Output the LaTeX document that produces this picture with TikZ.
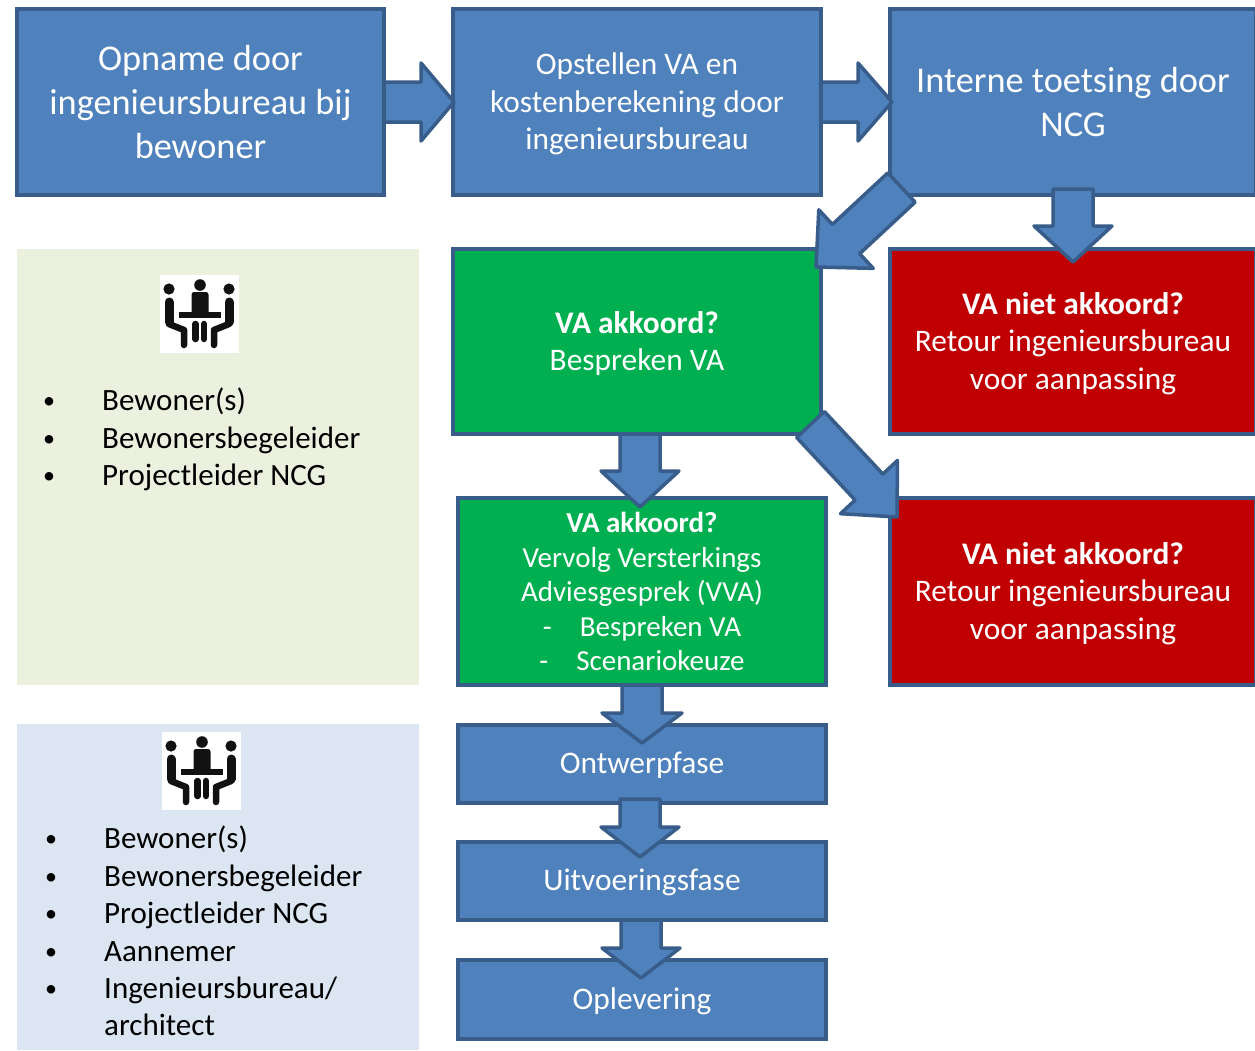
\documentclass[tikz,border=0pt]{standalone}
\usepackage{fontspec}
\setmainfont{Carlito}
\usetikzlibrary{calc}
\definecolor{bluefill}{HTML}{4F81BD}
\definecolor{blueline}{HTML}{385D8A}
\definecolor{greenfill}{HTML}{00B050}
\definecolor{redfill}{HTML}{C00000}
\definecolor{panelgreen}{HTML}{EBF1DE}
\definecolor{panelblue}{HTML}{DCE6F2}
\definecolor{iconblack}{HTML}{111111}
\tikzset{
  box/.style={draw=blueline,line width=3.5pt,inner sep=0pt,outer sep=0pt,text=white,align=center},
  bluebox/.style={box,fill=bluefill},
  greenbox/.style={box,fill=greenfill},
  redbox/.style={box,fill=redfill},
  blockarrow/.style={draw=blueline,fill=bluefill,line width=3.5pt,line join=round},
  panel/.style={inner sep=0pt,outer sep=0pt},
  listitem/.style={anchor=base west,inner sep=0pt,text=black,font=\fontsize{31}{36}\selectfont},
  dotitem/.style={anchor=base west,inner sep=0pt,text=black,font=\fontsize{24}{36}\selectfont},
  iconpart/.style={draw=iconblack,line cap=round,line join=round},
  bigtxt/.style={font=\fontsize{36.3}{44}\selectfont},
  midtxt/.style={font=\fontsize{31.4}{37.5}\selectfont},
  lowtxt/.style={font=\fontsize{29}{34.5}\selectfont},
  stagetxt/.style={font=\fontsize{31.4}{36}\selectfont},
}
\newcommand{\topstrut}[1]{\rule{0pt}{#1pt}}
\newcommand{\placebox}[7]{\node[#6,minimum width={(#4-#2-2)*1pt},minimum height={(#5-#3-2)*1pt}] (#1) at ({(#2+#4)/2},{(#3+#5)/2}) {#7};}
\newcommand{\placepanel}[6]{\node[panel,fill=#6,minimum width={(#4-#2)*1pt},minimum height={(#5-#3)*1pt}] (#1) at ({(#2+#4)/2},{(#3+#5)/2}) {};}
\newcommand{\blockarr}[5]{%
  \coordinate (ba) at #1; \coordinate (bb) at #2;
  \coordinate (bn) at ($(bb)!#5!(ba)$);
  \draw[blockarrow] ($(ba)!#3!90:(bb)$) -- ($(bn)!#3!-90:(ba)$) -- ($(bn)!#4!-90:(ba)$) -- (bb)
    -- ($(bn)!#4!90:(ba)$) -- ($(bn)!#3!90:(ba)$) -- ($(ba)!#3!-90:(bb)$) -- cycle;}
\newcommand{\meetingicon}[2]{%
  \begin{scope}[shift={(#1,#2)}]
    \fill[white] (0,0) rectangle (79,78);
    \fill[iconblack] (40,10) circle (5.8) (9,14) circle (5.6) (69,14) circle (5.6);
    \fill[iconblack,rounded corners=2.5] (31.5,17) rectangle (48.5,39);
    \fill[iconblack] (19,37) rectangle (61,42.5);
    \draw[iconpart,line width=6.5] (35.5,49) -- (35.5,64) (44,49) -- (44,64);
    \draw[iconpart,line width=9] (9,27) -- (9,47);
    \draw[iconpart,line width=9] (69,27) -- (69,47);
    \draw[iconpart,line width=6.5] (9,49) -- (24,55) -- (24,70);
    \draw[iconpart,line width=6.5] (69,49) -- (54,55) -- (54,70);
  \end{scope}}
\begin{document}
\begin{tikzpicture}[x=1pt,y=-1pt]
\useasboundingbox (0,0) rectangle (1255,1050);
\fill[white] (0,0) rectangle (1255,1050);
% panels
\placepanel{pg}{17}{249}{419}{685}{panelgreen}
\placepanel{pb}{17}{724}{419}{1050}{panelblue}
\meetingicon{160}{275}
\meetingicon{162}{732}
% lists
\foreach \yy/\tx in {410/Bewoner(s),448/Bewonersbegeleider,485/Projectleider NCG}{
  \node[listitem] at (102,\yy) {\tx};
  \node[dotitem] at (43,{\yy-2}) {•};
}
\foreach \yy/\tx in {848/Bewoner(s),886/Bewonersbegeleider,923/Projectleider NCG,961/Aannemer}{
  \node[listitem] at (104,\yy) {\tx};
  \node[dotitem] at (45,{\yy-2}) {•};
}
\node[listitem] at (104,998) {Ingenieursbureau/};
\node[dotitem] at (45,996) {•};
\node[listitem] at (104,1035) {architect};
% boxes
\placebox{b1}{16}{8}{385}{196}{bluebox,bigtxt}{Opname door\\ingenieursbureau bij\\bewoner}
\placebox{b2}{452}{8}{822}{196}{bluebox,midtxt}{\topstrut{26}Opstellen VA en\\kostenberekening door\\ingenieursbureau}
\placebox{b3}{889}{8}{1257}{196}{bluebox,bigtxt}{Interne toetsing door\\NCG}
\placebox{g1}{452}{248}{822}{435}{greenbox,midtxt}{\topstrut{26}\textbf{VA akkoord?}\\Bespreken VA}
\placebox{r1}{889}{248}{1257}{435}{redbox,midtxt}{\topstrut{26}\textbf{VA niet akkoord?}\\Retour ingenieursbureau\\voor aanpassing}
\placebox{g2}{457}{497}{827}{686}{greenbox,lowtxt}{\textbf{VA akkoord?}\\Vervolg Versterkings\\Adviesgesprek (VVA)\\-\hspace{28pt}Bespreken VA\\-\hspace{28pt}Scenariokeuze}
\placebox{r2}{889}{497}{1257}{686}{redbox,midtxt}{\topstrut{26}\textbf{VA niet akkoord?}\\Retour ingenieursbureau\\voor aanpassing}
\placebox{o1}{457}{724}{827}{804}{bluebox,stagetxt}{\topstrut{25}Ontwerpfase}
\placebox{o2}{457}{841}{827}{921}{bluebox,stagetxt}{\topstrut{25}Uitvoeringsfase}
\placebox{o3}{457}{959}{827}{1040}{bluebox,stagetxt}{\topstrut{25}Oplevering}
% connectors
\blockarr{(b1.east)}{([xshift=1pt]b2.west)}{20pt}{39pt}{33pt}
\blockarr{(b2.east)}{([xshift=2pt]b3.west)}{20pt}{39pt}{34pt}
\blockarr{([yshift=6pt]b3.south)}{([yshift=-13pt]r1.north)}{20pt}{39pt}{36pt}
\coordinate (dta) at (901.5,187.5);
\coordinate (dtb) at (816,267);
\blockarr{(dta)}{(dtb)}{20pt}{40pt}{41pt}
\coordinate (dua) at (810.5,424.5);
\coordinate (dub) at (897,517);
\blockarr{(dua)}{(dub)}{19pt}{39pt}{41pt}
\blockarr{([xshift=3pt]g1.south)}{([xshift=-2pt,yshift=-9pt]g2.north)}{20pt}{39pt}{36pt}
\blockarr{(g2.south)}{([yshift=-18pt]o1.north)}{20pt}{40pt}{30pt}
\blockarr{([xshift=-2pt,yshift=4pt]o1.south)}{([xshift=-2pt,yshift=-15pt]o2.north)}{20pt}{39pt}{30pt}
\blockarr{([xshift=-1pt]o2.south)}{([xshift=-1pt,yshift=-18pt]o3.north)}{20pt}{39pt}{30pt}
\end{tikzpicture}
\end{document}
